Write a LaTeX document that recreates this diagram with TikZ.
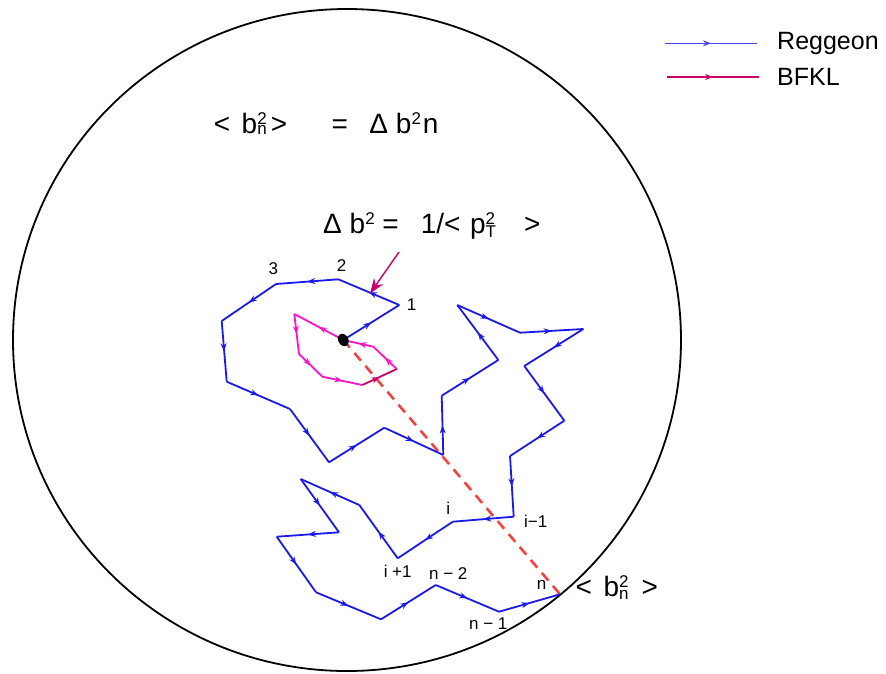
\documentclass[tikz,border=0pt]{standalone}
\usepackage{fontspec}
\setmainfont{Liberation Sans}
\usetikzlibrary{arrows.meta,decorations.markings}
\definecolor{regblue}{RGB}{25,25,240}
\definecolor{legblue}{RGB}{70,70,255}
\definecolor{bfklpink}{RGB}{255,20,200}
\definecolor{bfkldark}{RGB}{205,0,105}
\definecolor{reddash}{RGB}{255,60,60}
\newcommand\fsz[1]{\fontsize{#1}{#1}\selectfont}
% stacked superscript / subscript
\newcommand\stk[3]{\rlap{\raisebox{9pt}{\fsz{17}#1}}\raisebox{-#3}{\fsz{17}#2}}
\newcommand\supr[1]{\raisebox{9pt}{\fsz{17}#1}}
\tikzset{
  midarrow/.style={postaction={decorate},decoration={markings,
     mark=at position 0.5 with {\arrow{Stealth[length=8pt,width=6pt]}}}},
  reg/.style={draw=regblue,fill=none,line width=1.8pt,midarrow,color=regblue},
  bfkl/.style={draw=bfklpink,line width=1.8pt,midarrow,color=bfklpink},
  lbl/.style={font=\fsz{17},inner sep=0pt},
  big/.style={font=\fsz{28},inner sep=0pt,anchor=base west},
}
\begin{document}
\begin{tikzpicture}[x=1pt,y=-1pt]
\useasboundingbox (0,0) rectangle (886,673);
% circle
\draw[line width=1.8pt] (347,340) ellipse [x radius=334, y radius=331];
% Reggeon walk coordinates
\coordinate (r0) at (343.3,340);
\coordinate (r1) at (399.3,305);
\coordinate (r2) at (338.3,279.3);
\coordinate (r3) at (276,284);
\coordinate (r4) at (221.7,321);
\coordinate (r5) at (226.7,381.7);
\coordinate (r6) at (290,409);
\coordinate (r7) at (329,462.3);
\coordinate (r8) at (384.3,427.7);
\coordinate (r9) at (443.3,455);
\coordinate (r10) at (441.7,395.7);
\coordinate (r11) at (498.3,360);
\coordinate (r12) at (457.3,305);
\coordinate (r13) at (520,332.7);
\coordinate (r14) at (583.3,329);
\coordinate (r15) at (524.3,366);
\coordinate (r16) at (564.3,420.7);
\coordinate (r17) at (510,456);
\coordinate (r18) at (513.7,516.7);
\coordinate (r19) at (452.7,521.7);
\coordinate (r20) at (397.7,558.3);
\coordinate (r21) at (359.3,505);
\coordinate (r22) at (300.7,479);
\coordinate (r23) at (339,532.3);
\coordinate (r24) at (276.7,536.7);
\coordinate (r25) at (316,592.3);
\coordinate (r26) at (381,619.3);
\coordinate (r27) at (435.7,585);
\coordinate (r28) at (499,611.7);
\coordinate (r29) at (560,594.3);
% BFKL walk coordinates
\coordinate (p1) at (294.3,314);
\coordinate (p2) at (299,354);
\coordinate (p3) at (322.3,376.7);
\coordinate (p4) at (362.3,385);
\coordinate (p5) at (396.7,369);
\coordinate (p6) at (373.3,346.7);
% red dashed line
\draw[reddash,line width=2.5pt,dash pattern=on 10pt off 7pt] (r0) -- (r29);
% BFKL loop
\draw[bfkl] (r0) -- (p1);
\draw[bfkl] (p1) -- (p2);
\draw[bfkl] (p2) -- (p3);
\draw[bfkl] (p3) -- (p4);
\draw[bfkl,draw=bfkldark,color=bfkldark] (p4) -- (p5);
\draw[bfkl] (p5) -- (p6);
\draw[bfkl] (p6) -- (r0);
% Reggeon walk
\foreach \i in {0,...,28}{
  \pgfmathtruncatemacro\j{\i+1}
  \draw[reg] (r\i) -- (r\j);
}
% start point
\fill[black,rotate around={30:(r0)}] (r0) ellipse [x radius=5, y radius=6.5];
% pointing arrow
\coordinate (a0) at (399,252);
\coordinate (a1) at (370,293.5);
\draw[bfkldark,line width=1.4pt,-{Stealth[length=15pt,width=11pt]}] (a0) -- (a1);
% labels
\node[lbl] (l3) at (273.3,268.3) {3};
\node[lbl] (l2) at (341.7,266) {2};
\node[lbl] (l1) at (411.7,305) {1};
\node[lbl] (li) at (448.3,508.3) {i};
\node[lbl] (lim) at (535.7,521.7) {i−1};
\node[lbl] (lip) at (397.7,571) {i +1};
\node[lbl] (ln2) at (448.3,573.3) {n − 2};
\node[lbl] (ln) at (541.7,585) {n};
\node[lbl] (ln1) at (488.3,623.3) {n − 1};
% formulas
\node[big] (f1) at (213.7,133.3) {<\hspace{11.5pt}b\stk{2}{n}{1.5pt}\hspace{4pt}>\hspace{44.6pt}=\hspace{21.4pt}Δ b\supr{2}\hspace{2pt}n};
\node[big] (f2) at (323,233.3) {Δ b\supr{2} =\hspace{22pt}1/<\hspace{9.5pt}p\stk{2}{T}{3.7pt}\hspace{28pt}>};
\node[big] (f3) at (575.4,596.7) {<\hspace{11.7pt}b\stk{2}{n}{3pt}\hspace{13pt}>};
% legend
\coordinate (lr1) at (665,43.3);
\coordinate (lr2) at (757,43.3);
\coordinate (lb1) at (667,77);
\coordinate (lb2) at (759,77);
\draw[reg,draw=legblue,color=legblue,line width=1.2pt] (lr1) -- (lr2);
\draw[bfkl,draw=bfkldark,color=bfkldark,line width=1.2pt] (lb1) -- (lb2);
\node[font=\fsz{25},anchor=west,inner sep=0pt] (tr) at (777,43) {Reggeon};
\node[font=\fsz{25},anchor=west,inner sep=0pt] (tb) at (777,77) {BFKL};
\end{tikzpicture}
\end{document}
